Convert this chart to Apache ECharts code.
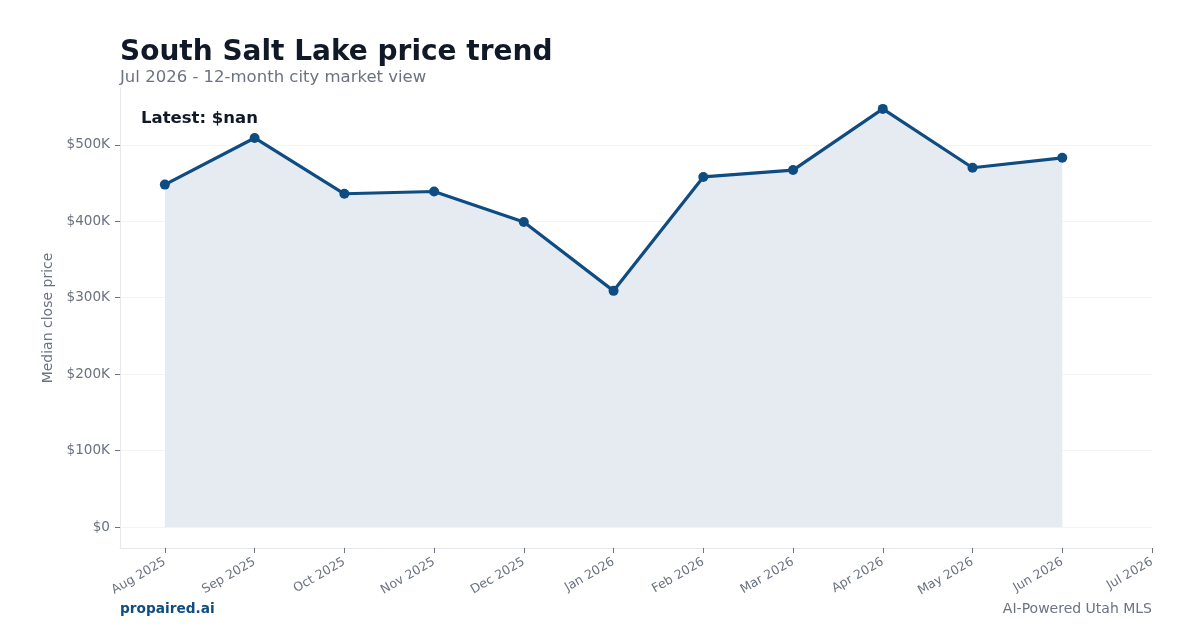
<!DOCTYPE html>
<html>
<head>
<meta charset="utf-8">
<script src="https://cdn.jsdelivr.net/npm/echarts@6/dist/echarts.min.js"></script>
<style>
  html, body { margin: 0; padding: 0; background: #fff; }
  #chart { width: 1200px; height: 630px; }
</style>
</head>
<body>
<div id="chart"></div>
<script>
// Data
const months = ['Aug 2025', 'Sep 2025', 'Oct 2025', 'Nov 2025', 'Dec 2025', 'Jan 2026',
    'Feb 2026', 'Mar 2026', 'Apr 2026', 'May 2026', 'Jun 2026', 'Jul 2026'];
const prices = [448000, 509000, 436000, 439000, 399000, 309000,
    458000, 467000, 547000, 470000, 483000, null];
const yTicks = [0, 100000, 200000, 300000, 400000, 500000];

const FONT = 'DejaVu Sans';
const NAVY = '#0f4c81';
const GREY = '#6b7280';

const chart = echarts.init(document.getElementById('chart'));

const xTicks = months.map((m, i) => i);

chart.setOption({
    animation: false,
    textStyle: { fontFamily: FONT },
    title: [
        { text: 'South Salt Lake price trend', left: 120, top: 39, padding: 0,
          textStyle: { fontFamily: FONT, fontSize: 28, fontWeight: 'bold', color: '#111827' } },
        { text: 'Jul 2026 - 12-month city market view', left: 120, top: 69, padding: 0,
          textStyle: { fontFamily: FONT, fontSize: 16.5, fontWeight: 'normal', color: GREY } },
        { text: 'Latest: $nan', left: 141, top: 110, padding: 0,
          textStyle: { fontFamily: FONT, fontSize: 16.5, fontWeight: 'bold', color: '#111827' } },
        { text: 'propaired.ai', left: 120, top: 602, padding: 0,
          textStyle: { fontFamily: FONT, fontSize: 13.7, fontWeight: 'bold', color: NAVY } },
        { text: 'AI-Powered Utah MLS', right: 48, top: 602, padding: 0,
          textStyle: { fontFamily: FONT, fontSize: 14, fontWeight: 'normal', color: GREY } }
    ],
    grid: { left: 120, right: 48, top: 88, bottom: 82 },
    xAxis: {
        type: 'value',
        min: -0.5,
        max: 11,
        axisLine: { show: true, onZero: false, lineStyle: { color: '#e5e7eb', width: 1 } },
        axisTick: { show: true, customValues: xTicks, length: 5, lineStyle: { color: GREY } },
        axisLabel: {
            customValues: xTicks,
            rotate: 30,
            fontSize: 12.5,
            color: GREY,
            margin: 13,
            formatter: v => months[Math.round(v)]
        },
        splitLine: { show: false }
    },
    yAxis: {
        type: 'value',
        min: -27350,
        max: 574350,
        name: 'Median close price',
        nameLocation: 'middle',
        nameGap: 56,
        nameTextStyle: { fontFamily: FONT, fontSize: 14, color: GREY },
        axisLine: { show: true, onZero: false, lineStyle: { color: '#e5e7eb', width: 1 } },
        axisTick: { show: true, customValues: yTicks, length: 5, lineStyle: { color: GREY } },
        axisLabel: {
            customValues: yTicks,
            fontSize: 13.6,
            color: GREY,
            margin: 10,
            formatter: v => '$' + Math.round(v / 1000) + (v === 0 ? '' : 'K')
        },
        splitLine: { show: true, lineStyle: { color: '#f3f4f6', width: 1 } }
    },
    series: [{
        type: 'line',
        data: months.map((m, i) => [i, prices[i] == null ? '-' : prices[i]]),
        symbol: 'circle',
        symbolSize: 10,
        lineStyle: { color: NAVY, width: 3.2 },
        itemStyle: { color: NAVY },
        areaStyle: { color: '#e6ebf2', opacity: 1 }
    }]
});
</script>
</body>
</html>
